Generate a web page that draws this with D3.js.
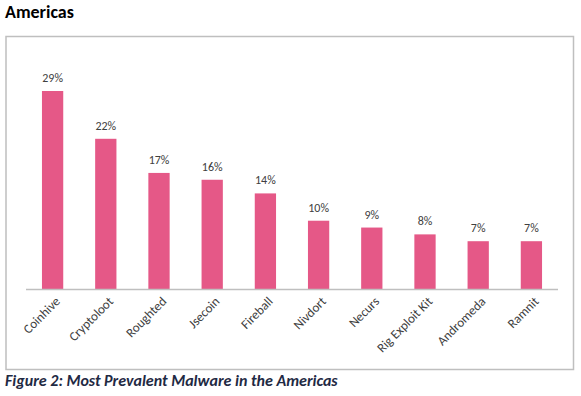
<!DOCTYPE html>
<html lang="en">
<head>
<meta charset="UTF-8" />
<title>Americas</title>
<script src="https://cdnjs.cloudflare.com/ajax/libs/d3/7.8.5/d3.min.js"></script>
<style>
  * { margin: 0; padding: 0; box-sizing: border-box; }
  body { background: #fff; width: 581px; height: 396px; overflow: hidden; }
  svg { display: block; }
</style>
</head>
<body>
<svg id="chart" width="581" height="396"></svg>
<script>
  // Datos
  const categories = ["Coinhive", "Cryptoloot", "Roughted", "Jsecoin", "Fireball",
                      "Nivdort", "Necurs", "Rig Exploit Kit", "Andromeda", "Ramnit"];
  const values = [29, 22, 17, 16, 14, 10, 9, 8, 7, 7];

  const svg = d3.select("#chart");
  const font = "Carlito, Lato, 'Open Sans', sans-serif";

  // Titulo
  svg.append("text")
    .attr("x", 5).attr("y", 18)
    .attr("font-family", font)
    .attr("font-weight", "bold")
    .attr("font-size", "18px")
    .attr("fill", "#000")
    .text("Americas");

  // Marco
  svg.append("rect")
    .attr("x", 6).attr("y", 36.5)
    .attr("width", 567.5).attr("height", 333)
    .attr("fill", "none")
    .attr("stroke", "#bfbfbf")
    .attr("stroke-width", 1.5);

  const x = d3.scaleBand().domain(categories).range([26, 558]).paddingInner(0.6).paddingOuter(0.3);
  const y = d3.scaleLinear().domain([0, 29]).range([289, 91]);

  // Barras
  svg.selectAll("rect.bar")
    .data(values)
    .enter()
    .append("rect")
    .attr("class", "bar")
    .attr("x", (d, i) => x(categories[i]))
    .attr("y", d => y(d))
    .attr("width", x.bandwidth())
    .attr("height", d => y(0) - y(d))
    .attr("fill", "#e55887");

  // Etiquetas de valor
  svg.selectAll("text.val")
    .data(values)
    .enter()
    .append("text")
    .attr("class", "val")
    .attr("x", (d, i) => x(categories[i]) + x.bandwidth() / 2)
    .attr("y", d => y(d) - 9)
    .attr("text-anchor", "middle")
    .attr("font-family", font)
    .attr("font-size", "12px")
    .attr("fill", "#404040")
    .text(d => d + "%");

  // Eje X
  svg.append("line")
    .attr("x1", 26).attr("x2", 558)
    .attr("y1", y(0) + 0.5).attr("y2", y(0) + 0.5)
    .attr("stroke", "#bfbfbf")
    .attr("stroke-width", 1.5);

  svg.selectAll("text.cat")
    .data(categories)
    .enter()
    .append("text")
    .attr("class", "cat")
    .attr("transform", d => `translate(${x(d) + x.bandwidth() / 2 + 5},${y(0) + 10}) rotate(-45)`)
    .attr("text-anchor", "end")
    .attr("dy", "0.35em")
    .attr("font-family", font)
    .attr("font-size", "13px")
    .attr("fill", "#404040")
    .text(d => d);

  // Pie de figura
  svg.append("text")
    .attr("x", 5).attr("y", 386)
    .attr("font-family", font)
    .attr("font-weight", "bold")
    .attr("font-style", "italic")
    .attr("font-size", "16px")
    .attr("fill", "#1f2a44")
    .text("Figure 2: Most Prevalent Malware in the Americas");
</script>
</body>
</html>
